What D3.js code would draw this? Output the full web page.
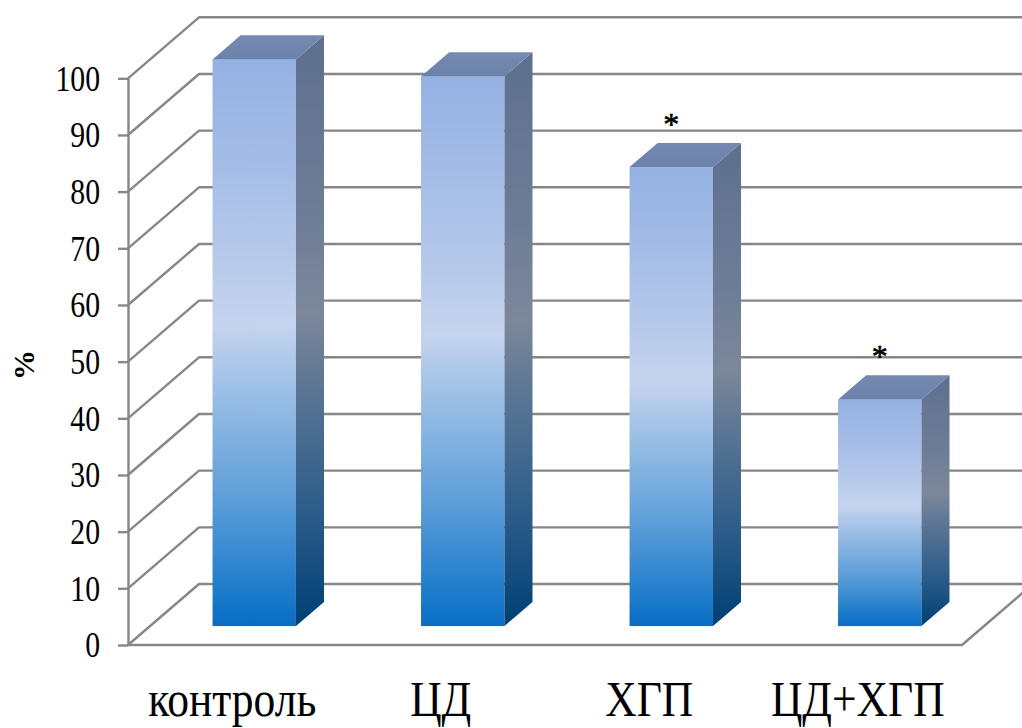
<!DOCTYPE html>
<html>
<head>
<meta charset="utf-8">
<script src="https://cdn.jsdelivr.net/npm/d3@7"></script>
<style>
  html, body { margin: 0; padding: 0; background: #ffffff; }
  svg { display: block; }
  text { font-family: "Liberation Serif", "Times New Roman", serif; fill: #000; }
</style>
</head>
<body>
<svg id="chart" width="1022" height="728"></svg>
<script>
// Data
const categories = ["контроль", "ЦД", "ХГП", "ЦД+ХГП"];
const values = [100, 97, 81, 40];
const significant = [false, false, true, true];
const yTicks = [0, 10, 20, 30, 40, 50, 60, 70, 80, 90, 100];
const axisTitle = "%";

(function () {
  const svg = d3.select("#chart");

  // Plot frame (front plane) and depth offset of the 3D box
  const plotLeft = 128, plotRight = 962, plotBottom = 645, plotTop = 78.3;
  const DX = 71, DY = 61;             // full depth offset of the back wall
  const fFront = 0.31, fBack = 0.705; // depth slice occupied by the bars

  const x = d3.scaleBand().domain(categories).range([plotLeft, plotRight])
    .paddingInner(0.6).paddingOuter(0.3);
  const y = d3.scaleLinear().domain([0, 100]).range([plotBottom, plotTop]);

  // Project a point (x on front plane, value, depth fraction) to screen
  const P = (px, v, f) => [px + f * DX, y(v) - f * DY];

  // Gradients
  const defs = svg.append("defs");
  function grad(id, stops) {
    const g = defs.append("linearGradient").attr("id", id)
      .attr("x1", 0).attr("y1", 0).attr("x2", 0).attr("y2", 1);
    stops.forEach(([o, c]) => g.append("stop").attr("offset", o).attr("stop-color", c));
  }
  grad("gFront", [[0, "#93b1e2"], [0.25, "#abc1e8"], [0.47, "#c5d3ee"], [0.55, "#a8c5e8"],
                  [0.78, "#5b9dd8"], [1, "#066ec6"]]);
  grad("gSide", [[0, "#5e6f8f"], [0.3, "#6e7d97"], [0.47, "#7c879a"], [0.6, "#5a7594"],
                 [0.8, "#2d5d8a"], [1, "#003f74"]]);
  grad("gTop", [[0, "#7689b0"], [1, "#6a82ab"]]);

  const gridColor = "#878787";
  const line = d3.line();

  // Back wall and left side wall grid lines
  const grid = svg.append("g").attr("fill", "none").attr("stroke", gridColor)
    .attr("stroke-width", 2.4).attr("stroke-linejoin", "round");
  grid.selectAll("path.gl").data(yTicks).join("path").attr("class", "gl")
    .attr("d", v => line([P(plotLeft, v, 0), P(plotLeft, v, 1), P(plotRight, v, 1)]));

  // Floor outline
  grid.append("path").attr("d", line([P(plotLeft, 0, 0), P(plotRight, 0, 0), P(plotRight, 0, 1)]));

  // Bars
  const bars = svg.append("g");
  categories.forEach((c, i) => {
    const v = values[i];
    const x0 = x(c), x1 = x(c) + x.bandwidth();
    const g = bars.append("g");
    const a = P(x0, v, fFront), b = P(x1, 0, fFront);
    g.append("rect").attr("x", a[0]).attr("y", a[1])
      .attr("width", b[0] - a[0]).attr("height", b[1] - a[1])
      .attr("fill", "url(#gFront)");
    g.append("path").attr("fill", "url(#gSide)")
      .attr("d", line([P(x1, 0, fFront), P(x1, v, fFront), P(x1, v, fBack), P(x1, 0, fBack)]) + "Z");
    g.append("path").attr("fill", "url(#gTop)")
      .attr("d", line([P(x0, v, fFront), P(x1, v, fFront), P(x1, v, fBack), P(x0, v, fBack)]) + "Z");

    // Significance marker above the bar
    if (significant[i]) {
      const cx = (x0 + x1) / 2 + fFront * DX;
      const ty = P(x0, v, fBack)[1];
      svg.append("text").attr("x", cx).attr("y", ty - 8)
        .attr("text-anchor", "middle").attr("font-size", 32)
        .attr("stroke", "#000").attr("stroke-width", 0.6).text("*");
    }
  });

  // Y axis
  const yAxis = d3.axisLeft(y).tickValues(yTicks).tickSize(10).tickSizeOuter(0);
  const ax = svg.append("g").attr("transform", `translate(${plotLeft},0)`).call(yAxis);
  ax.select(".domain").attr("stroke", gridColor).attr("stroke-width", 2.4);
  ax.selectAll(".tick line").attr("stroke", gridColor).attr("stroke-width", 2.4);
  ax.selectAll(".tick text")
    .attr("font-size", 35)
    .attr("fill", "#000")
    .attr("transform", "scale(0.85,1)")
    .attr("x", -28 / 0.85)
    .attr("dy", "0.34em");

  // Axis title
  svg.append("text")
    .attr("transform", "translate(34,365) rotate(-90)")
    .attr("text-anchor", "middle")
    .attr("font-size", 30).attr("font-weight", "bold")
    .text(axisTitle);

  // Category labels
  svg.append("g").selectAll("text").data(categories).join("text")
    .attr("transform", d => `translate(${x(d) + x.bandwidth() / 2},716) scale(0.87,1)`)
    .attr("text-anchor", "middle")
    .attr("font-size", 50)
    .text(d => d);
})();
</script>
</body>
</html>
